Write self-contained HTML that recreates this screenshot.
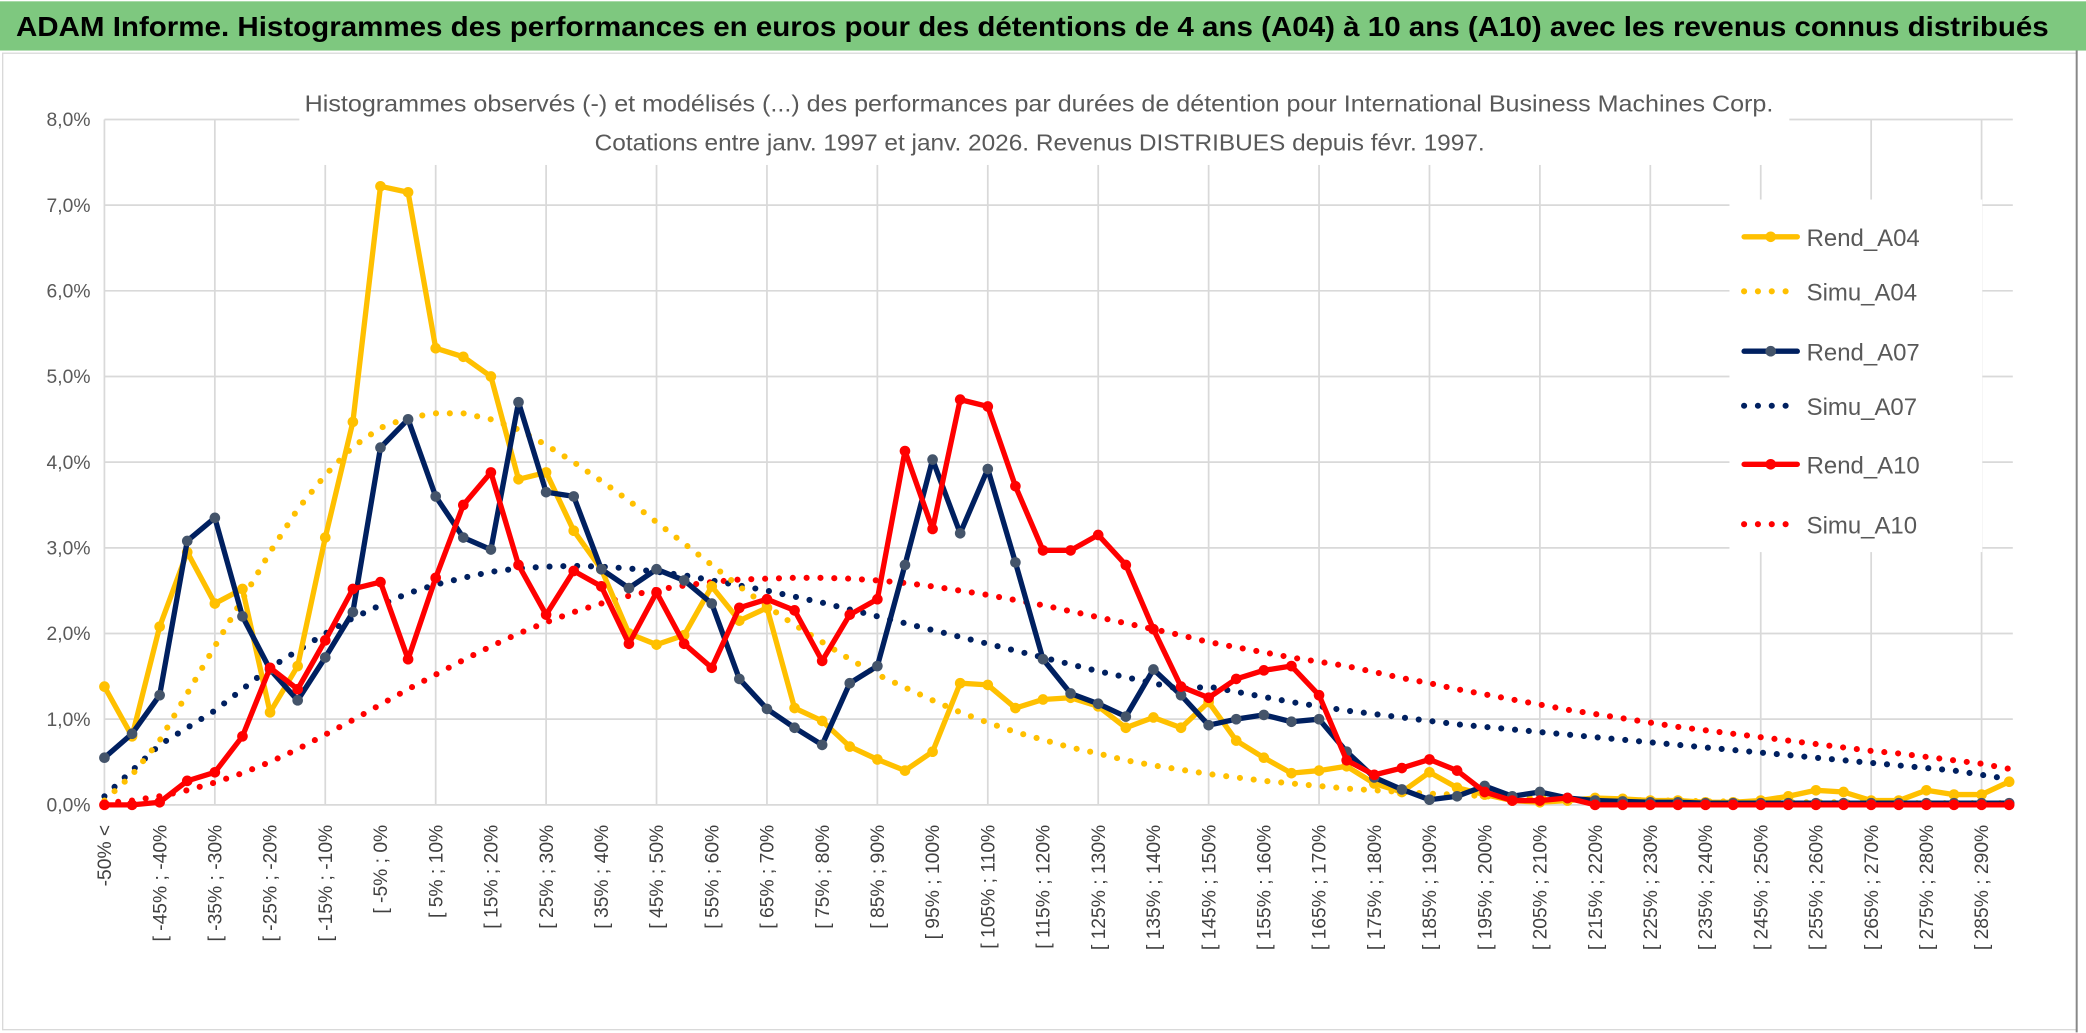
<!DOCTYPE html>
<html><head><meta charset="utf-8"><style>
html,body{margin:0;padding:0;background:#fff;}
svg{display:block;}
text{font-family:"Liberation Sans Narrow","Liberation Sans",sans-serif;}
</style></head><body>
<svg id="chart" width="2086" height="1033" viewBox="0 0 1568 776.5" preserveAspectRatio="none" xmlns="http://www.w3.org/2000/svg">
<rect x="0" y="0" width="1568" height="776.5" fill="#fff"/>
<rect x="0" y="1" width="1568" height="37" fill="#7ec87f"/>
<text x="12" y="27" font-size="21" font-weight="bold" fill="#000" textLength="1528" lengthAdjust="spacingAndGlyphs">ADAM Informe. Histogrammes des performances en euros pour des détentions de 4 ans (A04) à 10 ans (A10) avec les revenus connus distribués</text>
<rect x="2" y="40" width="1559" height="734" fill="none" stroke="#d9d9d9" stroke-width="1"/>
<line x1="1561" y1="38" x2="1561" y2="776" stroke="#888" stroke-width="1.5"/>
<g id="grid"></g>
<rect x="225" y="60" width="1120" height="64" fill="#fff"/>
<text x="229" y="84" font-size="17.5" fill="#595959" textLength="1104" lengthAdjust="spacingAndGlyphs">Histogrammes observés (-) et modélisés (...) des performances par durées de détention pour International Business Machines Corp.</text>
<text x="447" y="113" font-size="17.5" fill="#595959" textLength="669" lengthAdjust="spacingAndGlyphs">Cotations entre janv. 1997 et janv. 2026. Revenus DISTRIBUES depuis févr. 1997.</text>
<g id="yaxis"></g>
<g id="xaxis"></g>
<g id="series"></g>
<g id="legend"></g>
</svg>
<script>
const yTicks = [0,1,2,3,4,5,6,7,8];
const nCats = 70;
const rendA04 = [1.38,0.8,2.08,2.95,2.35,2.52,1.08,1.62,3.12,4.47,7.22,7.15,5.33,5.23,5.0,3.8,3.88,3.2,2.75,2.0,1.87,1.98,2.55,2.15,2.3,1.13,0.98,0.68,0.53,0.4,0.62,1.42,1.4,1.13,1.23,1.25,1.15,0.9,1.02,0.9,1.2,0.75,0.55,0.37,0.4,0.45,0.25,0.15,0.38,0.2,0.12,0.05,0.03,0.05,0.08,0.07,0.05,0.05,0.03,0.03,0.05,0.1,0.17,0.15,0.05,0.05,0.17,0.12,0.12,0.27];
const simuA04 = [0.05,0.35,0.75,1.3,1.85,2.4,2.95,3.45,3.85,4.18,4.4,4.52,4.57,4.57,4.5,4.38,4.2,4.0,3.78,3.55,3.3,3.05,2.8,2.55,2.32,2.1,1.9,1.7,1.52,1.37,1.22,1.08,0.96,0.85,0.76,0.67,0.6,0.52,0.46,0.41,0.36,0.32,0.28,0.25,0.22,0.19,0.17,0.15,0.13,0.12,0.1,0.09,0.08,0.07,0.06,0.06,0.05,0.05,0.04,0.04,0.03,0.03,0.03,0.03,0.02,0.02,0.02,0.02,0.02,0.02];
const rendA07 = [0.55,0.83,1.28,3.08,3.35,2.2,1.58,1.22,1.72,2.25,4.17,4.5,3.6,3.12,2.98,4.7,3.65,3.6,2.75,2.53,2.75,2.62,2.35,1.47,1.12,0.9,0.7,1.42,1.62,2.8,4.03,3.17,3.92,2.83,1.7,1.3,1.18,1.03,1.58,1.28,0.93,1.0,1.05,0.97,1.0,0.62,0.32,0.18,0.06,0.1,0.22,0.1,0.15,0.08,0.05,0.04,0.03,0.03,0.02,0.02,0.02,0.02,0.02,0.02,0.02,0.02,0.02,0.02,0.02,0.02];
const simuA07 = [0.1,0.4,0.7,0.9,1.1,1.35,1.6,1.8,2.0,2.18,2.33,2.47,2.57,2.65,2.72,2.76,2.78,2.79,2.78,2.76,2.72,2.68,2.62,2.56,2.5,2.43,2.36,2.28,2.2,2.12,2.04,1.96,1.88,1.8,1.72,1.64,1.56,1.49,1.42,1.35,1.38,1.32,1.26,1.2,1.15,1.1,1.06,1.02,0.98,0.94,0.91,0.88,0.85,0.82,0.79,0.76,0.73,0.7,0.67,0.64,0.61,0.58,0.55,0.52,0.49,0.46,0.43,0.4,0.35,0.3];
const rendA10 = [0,0,0.03,0.28,0.38,0.8,1.6,1.35,1.92,2.52,2.6,1.7,2.65,3.5,3.88,2.8,2.22,2.73,2.55,1.88,2.48,1.88,1.6,2.3,2.4,2.27,1.68,2.22,2.4,4.13,3.22,4.73,4.65,3.72,2.97,2.97,3.15,2.8,2.05,1.38,1.25,1.47,1.57,1.62,1.28,0.52,0.35,0.43,0.53,0.4,0.15,0.05,0.05,0.08,0,0,0,0,0,0,0,0,0,0,0,0,0,0,0,0];
const simuA10 = [0.02,0.05,0.1,0.17,0.26,0.37,0.5,0.65,0.82,0.99,1.17,1.35,1.52,1.69,1.85,2.0,2.13,2.25,2.35,2.44,2.51,2.56,2.6,2.63,2.64,2.65,2.65,2.64,2.62,2.59,2.55,2.5,2.45,2.39,2.33,2.26,2.19,2.12,2.05,1.98,1.9,1.84,1.78,1.72,1.67,1.62,1.55,1.48,1.42,1.35,1.29,1.23,1.17,1.11,1.06,1.01,0.96,0.91,0.87,0.83,0.79,0.75,0.71,0.67,0.63,0.6,0.56,0.52,0.48,0.42];
const seriesNames = ["Rend_A04","Simu_A04","Rend_A07","Simu_A07","Rend_A10","Simu_A10"];

const NS="http://www.w3.org/2000/svg";
const X0=78.5, DX=20.75, Y0=605, PY=64.4, XR=1513;
function xs(i){return X0+i*DX;}
function ys(v){return Y0-v*PY;}
function mk(tag,attrs,parent){const e=document.createElementNS(NS,tag);for(const k in attrs)e.setAttribute(k,attrs[k]);parent.appendChild(e);return e;}
function catLabel(i){if(i===0)return "-50% <";const lo=-50+5*(i-1);return "[ "+lo+"% ; "+(lo+5)+"%";}

const grid=document.getElementById('grid');
yTicks.forEach(t=>{
  const l=mk('line',{x1:X0,x2:XR,y1:ys(t),y2:ys(t),stroke:'#d9d9d9','stroke-width':1.3},grid);
  
  
});
for(let i=0;i<nCats;i+=4){
  const l=mk('line',{x1:xs(i),x2:xs(i),y1:ys(8),y2:Y0,stroke:'#d9d9d9','stroke-width':1.3},grid);
  
  
}
const ya=document.getElementById('yaxis');
yTicks.forEach(t=>{
  const tx=mk('text',{x:68,y:ys(t)+5,'font-size':14.5,fill:'#595959','text-anchor':'end'},ya);
  tx.textContent=t.toFixed(1).replace('.',',')+'%';
  
  
});
const xa=document.getElementById('xaxis');
for(let i=0;i<nCats;i+=2){
  const x=xs(i)+5;
  const tx=mk('text',{x:x,y:620,'font-size':14.5,fill:'#404040','text-anchor':'end',transform:'rotate(-90 '+x+' 620)'},xa);
  tx.textContent=catLabel(i);
  
  
}
const sg=document.getElementById('series');
function drawDotted(vals,color,name){
  const pts=vals.map((v,i)=>xs(i)+','+ys(v)).join(' ');
  const p=mk('polyline',{points:pts,fill:'none',stroke:color,'stroke-width':4.6,'stroke-linecap':'round','stroke-dasharray':'0 10.4'},sg);
  
  
}
function drawSolid(vals,color,mcol,name){
  const g=mk('g',{},sg);
  
  
  const pts=vals.map((v,i)=>xs(i)+','+ys(v)).join(' ');
  mk('polyline',{points:pts,fill:'none',stroke:color,'stroke-width':4,'stroke-linejoin':'round'},g);
  vals.forEach((v,i)=>{
    const c=mk('circle',{cx:xs(i),cy:ys(v),r:4,fill:mcol},g);
    
    
  });
}
drawDotted(simuA10,'#ff0000','simu-a10-line');
drawDotted(simuA07,'#002060','simu-a07-line');
drawDotted(simuA04,'#ffc000','simu-a04-line');
drawSolid(rendA04,'#ffc000','#ffc000','rend-a04-line');
drawSolid(rendA07,'#002060','#44546a','rend-a07-line');
drawSolid(rendA10,'#ff0000','#ff0000','rend-a10-line');

const lg=document.getElementById('legend');
mk('rect',{x:1300,y:150,width:190,height:265,fill:'#fff'},lg);
const lgY=[178,219,264,305,349,394];
const lgC=['#ffc000','#ffc000','#002060','#002060','#ff0000','#ff0000'];
const lgM=['#ffc000',null,'#44546a',null,'#ff0000',null];
seriesNames.forEach((n,k)=>{
  const g=mk('g',{},lg);
  
  
  const y=lgY[k];
  if(lgM[k]){
    mk('line',{x1:1311,x2:1351,y1:y,y2:y,stroke:lgC[k],'stroke-width':4,'stroke-linecap':'round'},g);
    mk('circle',{cx:1331,cy:y,r:4,fill:lgM[k]},g);
  } else {
    mk('line',{x1:1311,x2:1352,y1:y,y2:y,stroke:lgC[k],'stroke-width':4.6,'stroke-linecap':'round','stroke-dasharray':'0 10.4'},g);
  }
  const t=mk('text',{x:1358,y:y+7,'font-size':18,fill:'#595959'},g);
  t.textContent=n;
});
</script>
</body></html>
